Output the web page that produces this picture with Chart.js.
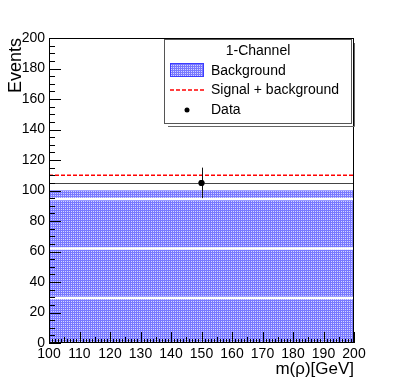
<!DOCTYPE html>
<html><head><meta charset="utf-8">
<script src="https://cdn.jsdelivr.net/npm/chart.js@4/dist/chart.umd.min.js"></script>
<style>html,body{margin:0;padding:0;background:#fff}#wrap{width:394px;height:382px}</style>
</head><body><div id="wrap"><canvas id="c" width="394" height="382"></canvas></div>
<script>
// ---- data ----
const xRange = [100, 200];
const yRange = [0, 200];
const xStep = 10;
const yStep = 20;
const backgroundEdges = [100, 200];
const backgroundLevel = [100, 100];
const bkgSplitLines = [29.5, 62, 94.5];
const signalPlusBkgLevel = [110, 110];
const dataX = [150];
const dataY = [105];
const dataErrY = [10];
const dataErrX = [50];
const legendTitle = '1-Channel';
const seriesLabels = ['Background', 'Signal + background', 'Data'];
const xTitle = 'm(\u03C1)[GeV]';
const yTitle = 'Events';

const FONT = '"Liberation Sans", Arial, Helvetica, sans-serif';
const canvas = document.getElementById('c');
const ctx0 = canvas.getContext('2d');

function makePattern(ctx) {
  const p = document.createElement('canvas');
  p.width = 2; p.height = 2;
  const g = p.getContext('2d');
  g.fillStyle = 'rgb(120,120,255)';
  g.fillRect(0, 0, 2, 2);
  g.fillStyle = 'rgb(212,212,255)';
  g.fillRect(1, 1, 1, 1);
  return ctx.createPattern(p, 'repeat');
}
const bkgPattern = makePattern(ctx0);

const datasets = [];
datasets.push({
  label: seriesLabels[2], type: 'scatter',
  data: dataX.map((x, i) => ({x: x, y: dataY[i]})),
  pointRadius: 3, pointBackgroundColor: '#000', pointBorderColor: '#000', pointBorderWidth: 0,
  order: 0
});
datasets.push({
  label: seriesLabels[1], type: 'line',
  data: backgroundEdges.map((x, i) => ({x: x, y: signalPlusBkgLevel[i]})),
  borderColor: 'rgb(255,0,0)', borderWidth: 1.5, borderDash: [4, 2],
  pointRadius: 0, fill: false, order: 1
});
bkgSplitLines.forEach((v) => {
  datasets.push({
    label: '_split', type: 'line',
    data: backgroundEdges.map((x) => ({x: x, y: v})),
    borderColor: '#fff', borderWidth: 2.5, pointRadius: 0, fill: false, order: 2
  });
});
datasets.push({
  label: seriesLabels[0], type: 'line',
  data: backgroundEdges.map((x, i) => ({x: x, y: backgroundLevel[i]})),
  borderColor: 'rgb(160,160,255)', borderWidth: 1,
  backgroundColor: bkgPattern, fill: 'origin',
  pointRadius: 0, order: 3
});

const errorBarPlugin = {
  id: 'errorBars',
  afterDatasetsDraw(chart) {
    const {ctx, scales: {x, y}} = chart;
    ctx.save();
    dataX.forEach((xv, i) => {
      const px = x.getPixelForValue(xv), py = y.getPixelForValue(dataY[i]);
      ctx.strokeStyle = '#444';
      ctx.lineWidth = 1;
      ctx.beginPath();
      ctx.moveTo(x.getPixelForValue(xv - dataErrX[i]), Math.round(py) + 0.5);
      ctx.lineTo(x.getPixelForValue(xv + dataErrX[i]), Math.round(py) + 0.5);
      ctx.stroke();
      ctx.strokeStyle = '#111';
      ctx.beginPath();
      ctx.moveTo(Math.round(px) + 0.5, y.getPixelForValue(dataY[i] - dataErrY[i]));
      ctx.lineTo(Math.round(px) + 0.5, y.getPixelForValue(dataY[i] + dataErrY[i]));
      ctx.stroke();
      ctx.fillStyle = '#000';
      ctx.beginPath();
      ctx.arc(px, py, 3, 0, Math.PI * 2);
      ctx.fill();
    });
    ctx.restore();
  }
};

const framePlugin = {
  id: 'frameTicks',
  afterDatasetsDraw(chart) {
    const {ctx, chartArea: a, scales: {x, y}} = chart;
    ctx.save();
    ctx.strokeStyle = '#000';
    ctx.lineWidth = 1;
    for (let v = xRange[0]; v <= xRange[1]; v += 1) {
      const px = Math.round(x.getPixelForValue(v)) + 0.5;
      const len = (v % 10 === 0) ? 11 : (v % 5 === 0 ? 6 : 4);
      ctx.beginPath(); ctx.moveTo(px, a.bottom); ctx.lineTo(px, a.bottom - len); ctx.stroke();
    }
    for (let v = yRange[0]; v <= yRange[1]; v += 5) {
      const py = Math.round(y.getPixelForValue(v)) + 0.5;
      const len = (v % 20 === 0) ? 12 : 6;
      ctx.beginPath(); ctx.moveTo(a.left, py); ctx.lineTo(a.left + len, py); ctx.stroke();
    }
    ctx.strokeRect(Math.round(a.left) + 0.5, Math.round(a.top) + 0.5,
                   Math.round(a.right - a.left) - 1, Math.round(a.bottom - a.top) - 1);
    ctx.restore();
  }
};

const legendPlugin = {
  id: 'rootLegend',
  afterDraw(chart) {
    const {ctx} = chart;
    const L = 164, T = 39, R = 351, B = 123;
    ctx.save();
    ctx.strokeStyle = '#666';
    ctx.lineWidth = 1;
    ctx.beginPath();
    ctx.moveTo(R + 3.5, T + 4); ctx.lineTo(R + 3.5, B + 3.5); ctx.lineTo(L + 4, B + 3.5);
    ctx.stroke();
    ctx.fillStyle = '#fff';
    ctx.fillRect(L, T, R - L, B - T);
    ctx.strokeStyle = '#555';
    ctx.strokeRect(L + 0.5, T + 0.5, R - L, B - T);
    ctx.fillStyle = '#000';
    ctx.font = '14px ' + FONT;
    ctx.textBaseline = 'middle';
    ctx.textAlign = 'center';
    ctx.fillText(legendTitle, 258, 51);
    ctx.textAlign = 'left';
    ctx.fillStyle = bkgPattern;
    ctx.fillRect(170, 63, 34, 14);
    ctx.strokeStyle = 'rgb(60,60,255)';
    ctx.strokeRect(170.5, 63.5, 33, 13);
    ctx.fillStyle = '#000';
    ctx.fillText(seriesLabels[0], 211, 71);
    ctx.strokeStyle = 'rgb(255,0,0)';
    ctx.lineWidth = 1.5;
    ctx.setLineDash([4, 2]);
    ctx.beginPath(); ctx.moveTo(170, 90); ctx.lineTo(204, 90); ctx.stroke();
    ctx.setLineDash([]);
    ctx.fillText(seriesLabels[1], 211, 90);
    ctx.beginPath(); ctx.arc(187, 110, 2.5, 0, Math.PI * 2); ctx.fill();
    ctx.fillText(seriesLabels[2], 211, 110);
    ctx.restore();
  }
};

new Chart(canvas, {
  data: {datasets: datasets},
  options: {
    responsive: false, animation: false, devicePixelRatio: 1,
    layout: {padding: {top: 38, right: 40, left: 0, bottom: 0}},
    plugins: {legend: {display: false}, tooltip: {enabled: false}},
    scales: {
      x: {
        type: 'linear', min: xRange[0], max: xRange[1],
        grid: {display: false, drawTicks: false}, border: {display: false},
        ticks: {stepSize: xStep, padding: 3, color: '#000', font: {family: FONT, size: 14}, maxRotation: 0, autoSkip: false},
        title: {display: true, text: xTitle, align: 'end', color: '#000', font: {family: FONT, size: 17}, padding: {top: 0, bottom: 2}},
        afterFit(s) { s.height = 39; }
      },
      y: {
        type: 'linear', min: yRange[0], max: yRange[1],
        grid: {display: false, drawTicks: false}, border: {display: false},
        ticks: {stepSize: yStep, padding: 4, color: '#000', font: {family: FONT, size: 14}},
        title: {display: true, text: yTitle, align: 'end', color: '#000', font: {family: FONT, size: 18}, padding: {top: 5, bottom: 0}},
        afterFit(s) { s.width = 49; }
      }
    }
  },
  plugins: [errorBarPlugin, framePlugin, legendPlugin]
});
</script></body></html>
